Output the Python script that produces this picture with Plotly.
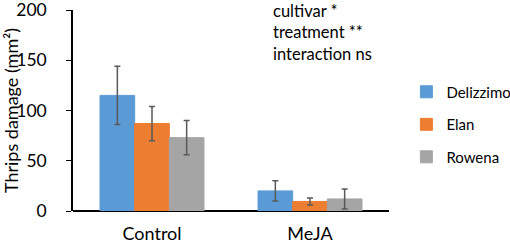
import plotly.graph_objects as go

categories = ["Control", "MeJA"]
cultivars = ["Delizzimo", "Elan", "Rowena"]
means = {
    "Delizzimo": [115, 20],
    "Elan": [87, 9.5],
    "Rowena": [73, 12],
}
errors = {
    "Delizzimo": [29, 10],
    "Elan": [17, 3.5],
    "Rowena": [17, 10],
}
colors = {"Delizzimo": "#5B9BD5", "Elan": "#ED7D31", "Rowena": "#A5A5A5"}
y_ticks = [0, 50, 100, 150, 200]
stats_text = ["cultivar *", "treatment **", "interaction ns"]

FONT = "Lato"

fig = go.Figure()
for i, c in enumerate(cultivars):
    fig.add_trace(go.Bar(
        name=c, x=categories, y=means[c],
        marker=dict(color=colors[c], line=dict(color=colors[c], width=1)),
        error_y=dict(type="data", array=errors[c], color="#595959", thickness=1.5, width=3),
        legendgroup=c,
    ))

fig.update_layout(
    width=510, height=245,
    margin=dict(l=73, r=121, t=10, b=34, autoexpand=False),
    paper_bgcolor="white", plot_bgcolor="white",
    barmode="group", bargap=0.342, bargroupgap=0,
    font=dict(family=FONT, color="#000000"),
    showlegend=True,
    legend=dict(x=1.055, y=0.43, xanchor="left", yanchor="middle",
                font=dict(size=15, family=FONT), tracegroupgap=10,
                itemwidth=30),
    xaxis=dict(showline=False, showticklabels=True, tickfont=dict(size=18),
               ticks="", ticklabelstandoff=10, automargin=False),
    yaxis=dict(range=[0, 200], tickvals=y_ticks, showline=True, linecolor="#000000",
               linewidth=1.5, ticks="outside", ticklen=5, tickcolor="#000000",
               tickwidth=1, ticklabelstandoff=16, automargin=False,
               ticklabeloverflow="allow",
               tickfont=dict(size=17.5), showgrid=False, zeroline=True,
               zerolinecolor="#000000", zerolinewidth=1.5,
               title=dict(text="Thrips damage (mm²)", font=dict(size=18), standoff=8)),
)

fig.add_annotation(
    x=0.627, y=1.055, xref="paper", yref="paper", xanchor="left", yanchor="top",
    text="<br>".join(stats_text), showarrow=False, align="left",
    font=dict(size=16.5, family=FONT),
)

fig.write_html("out.html", post_script="document.body.style.margin='0';",
               config={"displayModeBar": False})
